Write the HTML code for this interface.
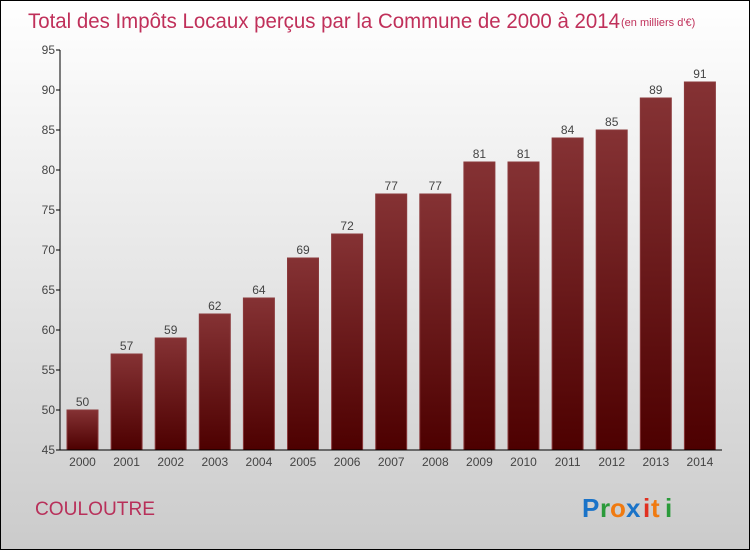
<!DOCTYPE html>
<html><head><meta charset="utf-8"><style>
body{margin:0;width:750px;height:550px;overflow:hidden}
#frame{position:absolute;left:0;top:0;width:748px;height:548px;border:1px solid #000;background:linear-gradient(#ffffff,#e6e6e6 50%,#cbcbcb)}
text{font-family:"Liberation Sans",sans-serif}
</style></head><body>
<div id="frame">
<svg id="chart" width="750" height="550" style="position:absolute;left:-1px;top:-1px">
<defs><linearGradient id="bg" x1="0" y1="0" x2="0" y2="1"><stop offset="0" stop-color="#853234"/><stop offset="1" stop-color="#4d0000"/></linearGradient></defs>
<text x="28" y="28" font-size="21" fill="#c0305a" font-weight="300" textLength="592" lengthAdjust="spacingAndGlyphs">Total des Impôts Locaux perçus par la Commune de 2000 à 2014</text>
<text x="621" y="26" font-size="11" fill="#c0305a">(en milliers d'€)</text>
<text x="35" y="515" font-size="19" fill="#b8305a" textLength="120" lengthAdjust="spacingAndGlyphs">COULOUTRE</text>
<g font-size="26" font-weight="bold" font-family="Liberation Sans">
<text x="582" y="517" fill="#1a73c8">P</text><text x="600" y="517" fill="#2a9a3a">r</text><text x="610" y="517" fill="#f07a10">o</text><text x="626" y="517" fill="#1a73c8">x</text><text x="643" y="517" fill="#e03020">i</text><text x="651" y="517" fill="#f07a10">t</text><text x="665" y="517" fill="#2a9a3a">i</text>
</g>
<g id="plot"></g>
</svg>
</div>
<script>
const categories=["2000","2001","2002","2003","2004","2005","2006","2007","2008","2009","2010","2011","2012","2013","2014"];
const values=[50,57,59,62,64,69,72,77,77,81,81,84,85,89,91];
const yTicks=[45,50,55,60,65,70,75,80,85,90,95];
const yMin=45,yMax=95,plotTop=50,plotBottom=450,plotLeft=60,plotRight=722;
const y=v=>plotBottom-(v-yMin)/(yMax-yMin)*(plotBottom-plotTop);
const x=i=>82.5+i*44.1;
const ns="http://www.w3.org/2000/svg",g=document.getElementById('plot');
function mk(t,a){const e=document.createElementNS(ns,t);for(const k in a)e.setAttribute(k,a[k]);g.appendChild(e);return e;}
values.forEach((v,i)=>{
 const r=mk('rect',{x:x(i)-15.5,y:y(v),width:31,height:plotBottom-y(v),fill:'url(#bg)',stroke:'#8a3a3c','stroke-width':1});
 
 
 const t=mk('text',{x:x(i),y:y(v)-4,'text-anchor':'middle','font-size':12,fill:'#444'});t.textContent=v;
 
 
 const c=mk('text',{x:x(i),y:plotBottom+16,'text-anchor':'middle','font-size':12,fill:'#444'});c.textContent=categories[i];
 
 
});
yTicks.forEach(v=>{
 const l=mk('line',{x1:plotLeft-4,x2:plotLeft,y1:y(v),y2:y(v),stroke:'#000'});
 
 
 const t=mk('text',{x:plotLeft-5,y:y(v)+4,'text-anchor':'end','font-size':12,fill:'#444'});t.textContent=v;
 
 
});
const ya=mk('line',{x1:plotLeft,x2:plotLeft,y1:plotTop,y2:plotBottom,stroke:'#000'});


const xa=mk('line',{x1:plotLeft,x2:plotRight,y1:plotBottom,y2:plotBottom,stroke:'#000'});


</script>
</body></html>
